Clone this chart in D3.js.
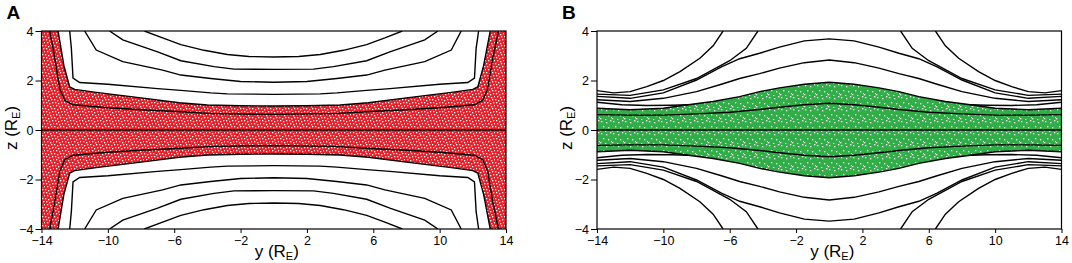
<!DOCTYPE html>
<html>
<head>
<meta charset="utf-8">
<script src="https://cdn.jsdelivr.net/npm/d3@7"></script>
<style>
  body { margin: 0; background: #fff; }
  text { font-family: "Liberation Sans", Arial, sans-serif; }
</style>
</head>
<body>
<svg id="chart" width="1072" height="263"></svg>
<script>
// tick values
const yTicks = [-14, -10, -6, -2, 2, 6, 10, 14];
const zTicks = [-4, -2, 0, 2, 4];

// Panel A, upper half lines [y, z] (lower half is the mirror image)
const aRedEdge = [[-13, 4], [-12.65, 2.6], [-12.3, 1.74], [-12, 1.64], [-10.7, 1.52], [-8, 1.3], [-5.7, 1.1], [-4, 1.01], [-2, 0.98], [0, 0.97],
  [2, 0.98], [4, 1.01], [5.7, 1.1], [8, 1.3], [10.7, 1.52], [12, 1.64], [12.3, 1.74], [12.65, 2.6], [13.05, 4]];
const aInner = [[-13.5, 4], [-13.2, 2.9], [-12.9, 1.67], [-12.6, 1.2], [-12.1, 1.02], [-10, 0.9], [-8, 0.82], [-5.6, 0.74], [-3.6, 0.66], [0, 0.63],
  [3.6, 0.66], [5.6, 0.74], [8, 0.82], [10, 0.9], [12.1, 1.02], [12.6, 1.2], [12.9, 1.67], [13.2, 2.9], [13.55, 4]];
const aLine1 = [[-12.3, 4], [-12.2, 3.3], [-12.1, 2.1], [-11.7, 1.92], [-10, 1.85], [-7, 1.67], [-5.6, 1.6], [-3.8, 1.5], [-2.8, 1.46], [0, 1.44],
  [2.8, 1.46], [3.8, 1.5], [5.6, 1.6], [7, 1.67], [10, 1.85], [11.7, 1.92], [12.1, 2.1], [12.2, 3.3], [12.35, 4]];
const aLine2 = [[-11.4, 4], [-10.7, 3.23], [-9.1, 2.76], [-6.7, 2.42], [-5.6, 2.22], [-3.8, 2.08], [-2, 1.96], [0, 1.93],
  [2, 1.96], [3.8, 2.08], [5.6, 2.22], [6.7, 2.42], [9.1, 2.76], [10.7, 3.23], [11.3, 4]];
const aLine3 = [[-9.9, 4], [-9.1, 3.64], [-7, 3.16], [-5.6, 2.8], [-3.6, 2.56], [-2.4, 2.46], [0, 2.45],
  [2.4, 2.46], [3.6, 2.56], [5.6, 2.8], [7, 3.16], [9.1, 3.64], [9.9, 4]];
const aLine4 = [[-7.8, 4], [-6.7, 3.72], [-5.6, 3.45], [-4.2, 3.22], [-2.8, 3.05], [-1.5, 2.97], [0, 2.95],
  [1.5, 2.97], [2.8, 3.05], [4.2, 3.22], [5.6, 3.45], [6.7, 3.72], [7.75, 4]];

// Panel B, upper half lines [y, z]
const bGreenEdge = [[-14, 0.88], [-12, 0.82], [-10, 0.88], [-8.5, 1.02], [-7, 1.15], [-5.4, 1.35], [-4.2, 1.55], [-3, 1.7], [-1.5, 1.85], [0, 1.93],
  [1.5, 1.85], [3, 1.7], [4.2, 1.55], [5.4, 1.35], [7, 1.15], [8.5, 1.02], [10, 0.88], [12, 0.82], [14, 0.88]];
const bInner = [[-14, 0.62], [-12, 0.6], [-10, 0.6], [-8, 0.65], [-6, 0.72], [-4.2, 0.83], [-3, 0.92], [-1.5, 1.02], [0, 1.08],
  [1.5, 1.02], [3, 0.92], [4.2, 0.83], [6, 0.72], [8, 0.65], [10, 0.6], [12, 0.6], [14, 0.62]];
const bLine1L = [[-14, 1.12], [-12.5, 1.02], [-11, 0.99], [-9.5, 1.0], [-8.5, 1.02]];
const bLine1R = [[8.5, 1.02], [9.5, 1.0], [11, 0.99], [12.5, 1.02], [14, 1.12]];
const bLine2 = [[-14, 1.22], [-12, 1.15], [-10, 1.28], [-8, 1.55], [-6.5, 1.85], [-5.4, 2.08], [-4.2, 2.28], [-3, 2.5], [-1.5, 2.72], [0, 2.83],
  [1.5, 2.72], [3, 2.5], [4.2, 2.28], [5.4, 2.08], [6.5, 1.85], [8, 1.55], [10, 1.28], [12, 1.15], [14, 1.22]];
const bLine3 = [[-14, 1.36], [-12, 1.28], [-10, 1.5], [-8, 2.02], [-6.5, 2.55], [-5.4, 2.88], [-4.2, 3.1], [-3, 3.35], [-1.5, 3.6], [0, 3.68],
  [1.5, 3.6], [3, 3.35], [4.2, 3.1], [5.4, 2.88], [6.5, 2.55], [8, 2.02], [10, 1.5], [12, 1.28], [14, 1.36]];
const bLine4L = [[-14, 1.45], [-12, 1.4], [-10, 1.62], [-8, 2.08], [-6, 2.8], [-5, 3.3], [-4.3, 4]];
const bLine4R = [[4.3, 4], [5, 3.3], [6, 2.8], [8, 2.08], [10, 1.62], [12, 1.4], [14, 1.45]];
const bLine5L = [[-14, 1.59], [-13, 1.5], [-12, 1.55], [-11, 1.75], [-10, 2.0], [-9, 2.36], [-7.8, 2.9], [-7, 3.4], [-6.4, 4]];
const bLine5R = [[6.4, 4], [7, 3.4], [7.8, 2.9], [9, 2.36], [10, 2.0], [11, 1.75], [12, 1.55], [13, 1.5], [14, 1.59]];

const svg = d3.select("#chart");
const plotTop = 31, plotBottom = 229;

// stipple patterns
const defs = svg.append("defs");
function stipple(id, color, size, dots) {
    const p = defs.append("pattern")
        .attr("id", id)
        .attr("patternUnits", "userSpaceOnUse")
        .attr("width", size).attr("height", size);
    p.append("rect").attr("width", size).attr("height", size).attr("fill", color);
    dots.forEach(d => p.append("rect").attr("x", d[0]).attr("y", d[1]).attr("width", 1.3).attr("height", 1.3).attr("fill", "#fff"));
}
stipple("redDots", "#e6202a", 9, [[0, 0], [3, 1], [6, 0], [1, 3], [4, 4], [7, 3], [2, 6], [5, 7], [8, 6]]);
stipple("greenDots", "#32ae48", 12, [[1, 1], [6, 2], [10, 0], [3, 6], [8, 7], [0, 10], [5, 11], [11, 9]]);

function drawPanel(left, letter, fillId, edge, lines) {
    const x = d3.scaleLinear().domain([-14, 14]).range([left, left + 464.5]);
    const y = d3.scaleLinear().domain([-4, 4]).range([plotBottom, plotTop]);
    const g = svg.append("g");

    const clipId = "clip" + letter;
    defs.append("clipPath").attr("id", clipId)
        .append("rect").attr("x", x(-14)).attr("y", plotTop).attr("width", x(14) - x(-14)).attr("height", plotBottom - plotTop);

    const plot = g.append("g").attr("clip-path", `url(#${clipId})`);

    // filled region between the upper edge and its mirror
    const first = edge[0], last = edge[edge.length - 1];
    const upper = [[-14, first[1] >= 4 ? 4 : first[1]], ...edge, [14, last[1] >= 4 ? 4 : last[1]]];
    const lower = upper.map(p => [p[0], -p[1]]).reverse();
    plot.append("path")
        .attr("d", d3.line().x(d => x(d[0])).y(d => y(d[1]))([...upper, ...lower]) + "Z")
        .attr("fill", `url(#${fillId})`);

    const line = d3.line().x(d => x(d[0])).y(d => y(d[1]));
    [edge, ...lines].forEach(pts => {
        [pts, pts.map(p => [p[0], -p[1]])].forEach(seg => {
            plot.append("path").attr("d", line(seg))
                .attr("fill", "none").attr("stroke", "#000").attr("stroke-width", 1.4);
        });
    });
    // z = 0 line
    plot.append("line")
        .attr("x1", x(-14)).attr("x2", x(14)).attr("y1", y(0)).attr("y2", y(0))
        .attr("stroke", "#000").attr("stroke-width", 1.4);

    // frame
    g.append("rect")
        .attr("x", x(-14)).attr("y", plotTop).attr("width", x(14) - x(-14)).attr("height", plotBottom - plotTop)
        .attr("fill", "none").attr("stroke", "#000").attr("stroke-width", 1.2);

    // axes
    const xAxis = g.append("g").attr("transform", `translate(0,${plotBottom})`)
        .call(d3.axisBottom(x).tickValues(yTicks).tickSize(4).tickPadding(3));
    const yAxis = g.append("g").attr("transform", `translate(${x(-14)},0)`)
        .call(d3.axisLeft(y).tickValues(zTicks).tickSize(6).tickPadding(2));
    [xAxis, yAxis].forEach(a => {
        a.select(".domain").remove();
        a.selectAll("text").attr("font-size", 12.5).attr("fill", "#000")
            .attr("font-family", "'Liberation Sans', Arial, sans-serif");
        a.selectAll("line").attr("stroke", "#000");
    });

    // axis titles
    const xt = g.append("text")
        .attr("x", (x(-14) + x(14)) / 2 + 3).attr("y", 257)
        .attr("text-anchor", "middle").attr("font-size", 17);
    xt.append("tspan").text("y (R");
    xt.append("tspan").attr("font-size", 11).attr("dy", 3).text("E");
    xt.append("tspan").attr("dy", -3).text(")");

    const zt = g.append("text")
        .attr("transform", `translate(${x(-14) - 25},${y(0) - 2}) rotate(-90)`)
        .attr("text-anchor", "middle").attr("font-size", 17);
    zt.append("tspan").text("z (R");
    zt.append("tspan").attr("font-size", 11).attr("dy", 3).text("E");
    zt.append("tspan").attr("dy", -3).text(")");

    // panel letter
    svg.append("text")
        .attr("x", left - 35).attr("y", 19)
        .attr("font-size", 19).attr("font-weight", "bold")
        .text(letter);
}

drawPanel(41.5, "A", "redDots", aRedEdge, [aInner, aLine1, aLine2, aLine3, aLine4]);
drawPanel(597, "B", "greenDots", bGreenEdge, [bInner, bLine1L, bLine1R, bLine2, bLine3, bLine4L, bLine4R, bLine5L, bLine5R]);
</script>
</body>
</html>
